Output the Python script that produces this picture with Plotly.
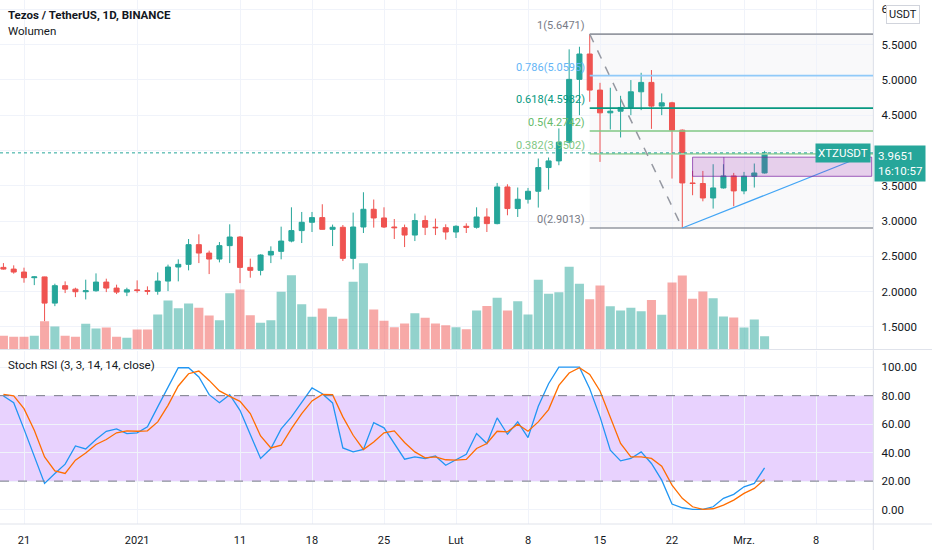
import pandas as pd
import plotly.graph_objs as go

# --- data (XTZ/USDT daily, Binance) ---
dates = pd.date_range("2020-12-19", "2021-03-03", freq="D")

opens = [2.343, 2.319, 2.277, 2.197, 2.208, 1.837, 2.084, 2.035, 1.998, 2.012,
         2.135, 2.050, 1.993, 2.025, 2.015, 2.005, 2.149, 2.348, 2.386, 2.665,
         2.546, 2.461, 2.651, 2.773, 2.343, 2.301, 2.518, 2.570, 2.716, 2.864,
         2.982, 3.048, 2.882, 2.911, 2.471, 2.915, 3.166, 3.043, 2.915, 2.905,
         2.801, 3.006, 2.911, 2.905, 2.844, 2.925, 2.911, 3.057, 2.963, 3.482,
         3.176, 3.308, 3.421, 3.757, 3.851, 4.116, 5.006, 5.365, 4.854, 4.532,
         4.555, 4.608, 4.830, 4.963, 4.627, 4.674, 4.287, 3.539, 3.531, 3.326,
         3.468, 3.638, 3.426, 3.634, 3.680]
highs = [2.404, 2.372, 2.339, 2.216, 2.211, 2.112, 2.145, 2.055, 2.169, 2.258,
         2.183, 2.098, 2.055, 2.159, 2.074, 2.272, 2.382, 2.457, 2.745, 2.811,
         2.580, 2.702, 2.953, 2.787, 2.467, 2.528, 2.641, 2.920, 3.194, 3.128,
         3.128, 3.237, 2.949, 2.943, 3.119, 3.407, 3.304, 3.194, 3.028, 2.949,
         3.105, 3.077, 3.034, 2.953, 2.939, 2.967, 3.194, 3.180, 3.539, 3.520,
         3.474, 3.468, 3.885, 3.899, 4.311, 5.431, 5.468, 5.6471, 4.957, 4.887,
         4.773, 4.996, 5.099, 5.138, 4.807, 4.688, 4.296, 3.709, 3.709, 3.804,
         3.804, 3.681, 3.695, 3.814, 3.993]
lows = [2.311, 2.254, 2.126, 2.092, 1.582, 1.794, 1.979, 1.922, 1.889, 1.999,
        1.993, 1.965, 1.936, 1.984, 1.956, 1.956, 2.007, 2.145, 2.301, 2.404,
        2.248, 2.414, 2.404, 2.120, 2.197, 2.230, 2.404, 2.457, 2.698, 2.688,
        2.844, 2.878, 2.645, 2.433, 2.315, 2.830, 2.906, 2.901, 2.745, 2.631,
        2.716, 2.801, 2.801, 2.736, 2.759, 2.830, 2.892, 2.844, 2.953, 3.081,
        3.057, 3.247, 3.190, 3.445, 3.790, 4.098, 4.499, 4.688, 3.837, 4.296,
        4.183, 4.499, 4.570, 4.305, 4.499, 3.601, 2.9013, 3.365, 3.279, 3.176,
        3.459, 3.209, 3.379, 3.474, 3.672]
closes = [2.319, 2.277, 2.197, 2.208, 1.837, 2.084, 2.035, 1.998, 2.012, 2.135,
          2.050, 1.993, 2.025, 2.015, 2.005, 2.149, 2.348, 2.386, 2.665, 2.546,
          2.461, 2.651, 2.773, 2.343, 2.301, 2.518, 2.570, 2.716, 2.864, 2.982,
          3.048, 2.882, 2.911, 2.471, 2.915, 3.166, 3.043, 2.915, 2.905, 2.801,
          3.006, 2.911, 2.905, 2.844, 2.925, 2.911, 3.057, 2.963, 3.482, 3.176,
          3.308, 3.421, 3.757, 3.851, 4.116, 5.006, 5.365, 4.854, 4.532, 4.555,
          4.608, 4.830, 4.963, 4.627, 4.674, 4.287, 3.539, 3.531, 3.326, 3.468,
          3.638, 3.426, 3.634, 3.680, 3.9651]
volume = [13.7, 12.7, 12.7, 13.7, 28.3, 23.0, 13.7, 12.7, 25.7, 21.0,
          22.0, 12.7, 11.7, 20.0, 20.0, 35.0, 49.0, 41.3, 46.0, 41.7,
          34.0, 29.3, 56.3, 60.0, 34.3, 26.7, 29.3, 57.7, 74.3, 45.3,
          32.7, 41.0, 32.7, 30.7, 67.7, 86.3, 40.0, 28.7, 22.3, 26.0,
          36.3, 31.7, 26.0, 24.3, 22.3, 20.3, 39.0, 43.5, 51.7, 39.0,
          48.3, 35.0, 69.7, 55.7, 57.3, 82.7, 65.7, 50.3, 64.0, 43.3,
          39.0, 41.7, 38.2, 49.4, 34.7, 67.0, 74.0, 50.7, 58.0, 51.3,
          33.0, 32.0, 22.0, 30.0, 13.3]

stoch_k = [79.8, 75.1, 56.5, 37.0, 18.4, 25.4, 31.9, 44.7, 42.6, 49.2,
           55.0, 56.7, 53.4, 53.9, 58.1, 72.1, 86.1, 99.6, 99.6, 93.1,
           80.7, 75.1, 80.7, 69.7, 52.7, 35.9, 42.9, 56.7, 65.1, 75.6,
           85.4, 81.4, 74.9, 43.3, 40.5, 42.2, 61.1, 57.4, 46.4, 35.4,
           37.0, 35.9, 37.7, 31.1, 35.0, 38.9, 53.4, 46.4, 64.4, 52.9,
           61.6, 50.6, 72.5, 88.4, 100.0, 100.0, 100.0, 84.9, 65.1, 41.7,
           34.2, 35.9, 40.5, 32.4, 20.7, 3.9, 1.3, 0.2, 0.2, 2.0,
           7.9, 10.7, 16.0, 18.4, 29.3]
stoch_d = [80.9, 79.8, 70.9, 55.7, 37.0, 27.2, 25.4, 34.7, 39.8, 45.7,
           49.2, 53.9, 55.3, 55.0, 55.3, 61.6, 73.2, 86.8, 95.4, 97.3,
           90.7, 83.3, 79.5, 76.0, 67.4, 51.7, 43.3, 45.2, 56.9, 67.4,
           76.3, 80.9, 80.7, 65.1, 52.2, 42.2, 47.5, 53.9, 55.3, 47.1,
           40.5, 36.3, 37.0, 35.0, 34.7, 35.2, 42.9, 46.4, 55.0, 54.6,
           59.9, 55.0, 61.6, 70.2, 87.2, 95.9, 99.6, 94.9, 83.3, 65.1,
           46.4, 37.0, 37.0, 35.9, 30.5, 17.2, 7.9, 2.0, 0.2, 0.6,
           3.2, 6.7, 11.4, 14.9, 21.2]

# fibonacci retracement drawn on the chart
fib_ratios = [1, 0.786, 0.618, 0.5, 0.382, 0]
fib_prices = [5.6471, 5.0595, 4.5982, 4.2742, 3.9502, 2.9013]
fib_colors = ["#9598a1", "#90caf9", "#089981", "#81c784", "#a5d6a7", "#9598a1"]
fib_text_colors = ["#787b86", "#64b5f6", "#089981", "#66bb6a", "#81c784", "#787b86"]

tick_dates = ["2020-12-21", "2021-01-01", "2021-01-11", "2021-01-18", "2021-01-25",
              "2021-02-01", "2021-02-08", "2021-02-15", "2021-02-22", "2021-03-01",
              "2021-03-08"]
tick_labels = ["21", "2021", "11", "18", "25", "Lut", "8", "15", "22", "Mrz.", "8"]
price_ticks = [1.5, 2.0, 2.5, 3.0, 3.5, 4.0, 4.5, 5.0, 5.5, 6.0]
stoch_ticks = [0, 20, 40, 60, 80, 100]

last_price = 3.9651

W, H = 932, 550
FONT = "Roboto"
TXT = "#131722"
GRID = "#f0f3fa"
BORDER = "#e0e3eb"
UP = "#26a69a"
DOWN = "#ef5350"

x_right = 873.3 / W
x_range = ["2020-12-18 16:00", "2021-03-13 13:40"]


def py(px):
    # pixel row (from top) -> paper y
    return 1 - px / H


vol_colors = []
for o, c in zip(opens, closes):
    if c >= o:
        vol_colors.append("rgba(38,166,154,0.5)")
    else:
        vol_colors.append("rgba(239,83,80,0.5)")

vol_trace = go.Bar(
    x=dates, y=volume, marker=dict(color=vol_colors, line_width=0),
    xaxis="x", yaxis="y", hoverinfo="skip", showlegend=False
)
candle_trace = go.Candlestick(
    x=dates, open=opens, high=highs, low=lows, close=closes,
    xaxis="x", yaxis="y3",
    increasing=dict(line=dict(color=UP, width=1), fillcolor=UP),
    decreasing=dict(line=dict(color=DOWN, width=1), fillcolor=DOWN),
    whiskerwidth=0, showlegend=False
)
k_trace = go.Scatter(x=dates, y=stoch_k, mode="lines", line=dict(color="#2196f3", width=1.3),
                     xaxis="x2", yaxis="y2", showlegend=False)
d_trace = go.Scatter(x=dates, y=stoch_d, mode="lines", line=dict(color="#ff6d00", width=1.3),
                     xaxis="x2", yaxis="y2", showlegend=False)

fig = go.Figure(data=[vol_trace, candle_trace, k_trace, d_trace])

fig.update_layout(
    width=W, height=H,
    margin=dict(l=0, r=0, t=0, b=0),
    paper_bgcolor="white", plot_bgcolor="white",
    font=dict(family=FONT, size=11, color=TXT),
    bargap=0.12,
    boxgap=0.3,
    showlegend=False,
    xaxis=dict(domain=[0, x_right], anchor="y", range=x_range, type="date",
               tickvals=tick_dates, showticklabels=False, showgrid=True,
               gridcolor=GRID, zeroline=False, rangeslider=dict(visible=False)),
    xaxis2=dict(domain=[0, x_right], anchor="y2", range=x_range, type="date",
                matches="x", tickvals=tick_dates, ticktext=tick_labels,
                showgrid=True, gridcolor=GRID, zeroline=False,
                ticks="outside", ticklen=6, tickcolor="rgba(0,0,0,0)",
                tickfont=dict(size=11, color=TXT)),
    yaxis=dict(domain=[py(349.5), 1], range=[0, 349.5], visible=False, fixedrange=True),
    yaxis3=dict(domain=[py(349.5), 1], overlaying="y", anchor="x", side="right",
                range=[1.18, 6.13], tickvals=price_ticks,
                ticktext=[f"{v:.4f}" for v in price_ticks],
                showgrid=True, gridcolor=GRID, zeroline=False,
                showline=True, linecolor=BORDER, ticks="outside", ticklen=5,
                tickcolor="rgba(0,0,0,0)", tickfont=dict(size=11.5, color=TXT)),
    yaxis2=dict(domain=[py(524), py(350.5)], anchor="x2", side="right",
                range=[-10.1, 111.7], tickvals=stoch_ticks,
                ticktext=[f"{v:.2f}" for v in stoch_ticks],
                showgrid=True, gridcolor=GRID, zeroline=False,
                showline=True, linecolor=BORDER, ticks="outside", ticklen=5,
                tickcolor="rgba(0,0,0,0)", tickfont=dict(size=11.5, color=TXT)),
)

shapes = []
# pane separators
shapes.append(dict(type="line", xref="paper", yref="paper", x0=0, x1=1,
                   y0=py(349.5), y1=py(349.5), line=dict(color=BORDER, width=1)))
shapes.append(dict(type="line", xref="paper", yref="paper", x0=0, x1=1,
                   y0=py(524), y1=py(524), line=dict(color=BORDER, width=1)))
shapes.append(dict(type="line", xref="paper", yref="paper", x0=x_right, x1=x_right,
                   y0=0, y1=1, line=dict(color=BORDER, width=1)))

# stoch rsi band
shapes.append(dict(type="rect", xref="x2", yref="y2", x0=x_range[0], x1=x_range[1],
                   y0=20, y1=80, fillcolor="rgba(170,90,250,0.27)", line_width=0,
                   layer="below"))
for lvl in [20, 80]:
    shapes.append(dict(type="line", xref="x2", yref="y2", x0=x_range[0], x1=x_range[1],
                       y0=lvl, y1=lvl, line=dict(color="#787b86", width=1, dash="dash")))

# fib retracement
fib_x0 = "2021-02-14"
fib_x1 = "2021-03-13 13:00"
for i in range(len(fib_prices) - 1):
    shapes.append(dict(type="rect", xref="x", yref="y3", x0=fib_x0, x1=fib_x1,
                       y0=fib_prices[i + 1], y1=fib_prices[i],
                       fillcolor="rgba(120,123,134,0.045)", line_width=0, layer="below"))
for p, col in zip(fib_prices, fib_colors):
    shapes.append(dict(type="line", xref="x", yref="y3", x0=fib_x0, x1=fib_x1,
                       y0=p, y1=p, line=dict(color=col, width=1.6)))
shapes.append(dict(type="line", xref="x", yref="y3", x0="2021-02-14", y0=5.6471,
                   x1="2021-02-23", y1=2.9013, line=dict(color="#9598a1", width=1.5, dash="dash")))

# rising trend line and box
shapes.append(dict(type="line", xref="x", yref="y3", x0="2021-02-23", y0=2.9013,
                   x1="2021-03-11 12:00", y1=3.857, line=dict(color="#42a5f5", width=1.2)))
shapes.append(dict(type="rect", xref="x", yref="y3", x0="2021-02-24", x1="2021-03-13 10:00",
                   y0=3.633, y1=3.904, fillcolor="rgba(156,39,176,0.2)",
                   line=dict(color="rgba(123,31,162,0.7)", width=1)))
shapes.append(dict(type="line", xref="x", yref="y3", x0="2021-02-27 01:00", x1="2021-02-27 01:00",
                   y0=3.633, y1=3.904, line=dict(color="rgba(123,31,162,0.7)", width=1)))

# last price line
shapes.append(dict(type="line", xref="paper", yref="y3", x0=0, x1=x_right,
                   y0=last_price, y1=last_price, line=dict(color=UP, width=1, dash="dot")))
fig.update_layout(shapes=shapes)

anns = []
for r, p, col in zip(fib_ratios, fib_prices, fib_text_colors):
    anns.append(dict(x=fib_x0, y=p, xref="x", yref="y3", text=f"{r}({p:.4f})",
                     showarrow=False, xanchor="right", yanchor="bottom", xshift=-3,
                     font=dict(size=11, color=col)))

anns.append(dict(x=6 / W, y=py(15), xref="paper", yref="paper", xanchor="left",
                 yanchor="middle", showarrow=False,
                 text="<b>Tezos / TetherUS, 1D, BINANCE</b>", font=dict(size=11.5, color=TXT)))
anns.append(dict(x=6 / W, y=py(31), xref="paper", yref="paper", xanchor="left",
                 yanchor="middle", showarrow=False, text="Wolumen",
                 font=dict(size=11.5, color=TXT)))
anns.append(dict(x=6 / W, y=py(365), xref="paper", yref="paper", xanchor="left",
                 yanchor="middle", showarrow=False, text="Stoch RSI (3, 3, 14, 14, close)",
                 font=dict(size=11.5, color=TXT)))
anns.append(dict(x=886 / W, y=py(15), xref="paper", yref="paper", xanchor="left",
                 yanchor="middle", showarrow=False, text="USDT", bgcolor="white",
                 bordercolor="#d1d4dc", borderwidth=1, borderpad=2,
                 font=dict(size=11, color=TXT)))
anns.append(dict(x=871 / W, y=last_price, xref="paper", yref="y3", xanchor="right",
                 yanchor="middle", showarrow=False, text="XTZUSDT", bgcolor=UP,
                 borderpad=2, font=dict(size=11.5, color="white")))
anns.append(dict(x=874 / W, y=last_price, xref="paper", yref="y3", xanchor="left",
                 yanchor="top", yshift=8, showarrow=False, align="left",
                 text="3.9651<br>16:10:57", bgcolor=UP, borderpad=3,
                 font=dict(size=11.5, color="white")))
fig.update_layout(annotations=anns)

# page body has a default 8px margin; drop it so the figure fills the window
fig.write_html("out.html", config={"displayModeBar": False},
               post_script="document.body.style.margin='0px';")
